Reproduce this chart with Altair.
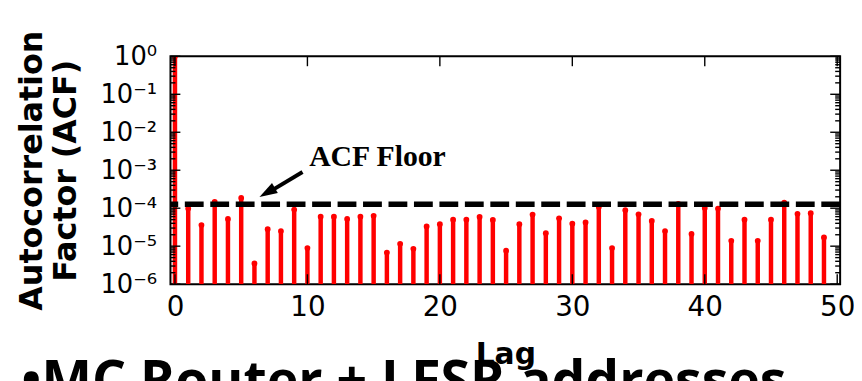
import altair as alt
import pandas as pd

# ---- data ----
lags = list(range(50))
acf = [1.0, 9.8e-5, 3.6e-5, 1.46e-4, 5.2e-5, 1.86e-4, 3.5e-6, 2.8e-5, 2.5e-5, 9.2e-5,
       8.9e-6, 6.0e-5, 6.0e-5, 5.2e-5, 6.0e-5, 6.3e-5, 6.8e-6, 1.15e-5, 8.5e-6, 3.3e-5,
       3.8e-5, 5.0e-5, 5.0e-5, 5.9e-5, 4.9e-5, 7.6e-6, 3.8e-5, 6.8e-5, 2.2e-5, 5.4e-5,
       3.9e-5, 4.2e-5, 1.08e-4, 8.9e-6, 8.9e-5, 6.9e-5, 4.6e-5, 2.5e-5, 1.29e-4, 2.1e-5,
       1.02e-4, 9.8e-5, 1.38e-5, 5.0e-5, 1.38e-5, 5.0e-5, 1.41e-4, 7.1e-5, 7.4e-5, 1.7e-5]
acf_floor = [1.27e-4]
x_ticks = [0, 10, 20, 30, 40, 50]
y_ticks = [1e-6, 1e-5, 1e-4, 1e-3, 1e-2, 1e-1, 1.0]
y_minor = [m * 10.0 ** k for k in range(-6, 0) for m in range(2, 10)]
annot_label = ["ACF Floor"]
annot_pos_x = [10.13]
annot_pos_y = [1.33e-3]
arrow_tail_x = [9.63]
arrow_tail_y = [8.98e-4]
arrow_shaft_end_x = [7.16]
arrow_shaft_end_y = [2.73e-4]
arrow_tip_x = [6.38]
arrow_tip_y = [1.97e-4]
slide_text = ["\u2022MC Router + LFSR addresses"]

W, H = 676, 230
xs = alt.Scale(domain=[-0.34, 50.22], nice=False, zero=False)
ys = alt.Scale(type="log", domain=[1e-6, 1.0], nice=False)

y_label_expr = ("'10' + (round(log(datum.value)/LN10) < 0 ? '\u207b' : '') + "
                "substring('\u2070\u00b9\u00b2\u00b3\u2074\u2075\u2076', "
                "abs(round(log(datum.value)/LN10)), abs(round(log(datum.value)/LN10)) + 1)")

xaxis = alt.Axis(
    values=x_ticks, ticks=False, tickSize=0, domain=False, grid=False,
    labelFont="DejaVu Sans", labelFontSize=28, labelColor="black",
    labelPadding=10, labelFlush=False,
    title="Lag", titleFont="DejaVu Sans", titleFontSize=30, titleFontWeight="bold",
    titleColor="black", titleBaseline="alphabetic", titleY=80, titleX=W / 2,
    titleAlign="center")
yaxis = alt.Axis(
    values=y_ticks, ticks=False, tickSize=0, domain=False, grid=False,
    labelExpr=y_label_expr, labelFont="DejaVu Sans", labelFontSize=26,
    labelColor="black", labelPadding=14, labelFlush=False,
    title=["Autocorrelation", "Factor (ACF)"], titleFont="DejaVu Sans",
    titleFontSize=32, titleFontWeight="bold", titleColor="black",
    titleAngle=270, titleAlign="center", titleBaseline="alphabetic",
    titleLineHeight=35, titleX=-130.5, titleY=H / 2)


def X(field):
    return alt.X(field, scale=xs, axis=xaxis)


def Y(field):
    return alt.Y(field, scale=ys, axis=yaxis)


df = pd.DataFrame({"lag": lags, "acf": acf})

stems = alt.Chart(df).mark_rule(color="#ff0000", strokeWidth=4.5, clip=True).encode(
    x=X("lag:Q"), y=Y("acf:Q"), y2=alt.datum(1e-6))

dots = alt.Chart(df).mark_point(shape="circle", filled=True, size=34, color="#ff0000",
                                opacity=1, clip=True).encode(x=X("lag:Q"), y=Y("acf:Q"))

floor = alt.Chart(pd.DataFrame({"floor": acf_floor})).mark_rule(
    color="black", strokeWidth=5.5, strokeDash=[19, 6.7]).encode(y=Y("floor:Q"))

arrow_df = pd.DataFrame({"x": arrow_tail_x, "y": arrow_tail_y,
                         "x2": arrow_shaft_end_x, "y2": arrow_shaft_end_y,
                         "tx": arrow_tip_x, "ty": arrow_tip_y})
shaft = alt.Chart(arrow_df).mark_rule(color="black", strokeWidth=4).encode(
    x=X("x:Q"), y=Y("y:Q"), x2="x2:Q", y2="y2:Q")
head = alt.Chart(arrow_df).mark_point(shape="M0,0L-0.65,2L0.65,2Z", filled=True,
                                      size=324, angle=240, color="black", opacity=1).encode(
    x=X("tx:Q"), y=Y("ty:Q"))

label = alt.Chart(pd.DataFrame({"t": annot_label, "x": annot_pos_x, "y": annot_pos_y})).mark_text(
    font="Liberation Serif", fontSize=30, fontWeight="bold", color="black",
    align="left", baseline="alphabetic").encode(x=X("x:Q"), y=Y("y:Q"), text="t:N")

# tick marks drawn inward (decoration)
tk = pd.DataFrame({"v": y_ticks})
tkm = pd.DataFrame({"v": y_minor})
tx = pd.DataFrame({"v": x_ticks})
tick_style = dict(color="black", strokeWidth=1.4)
yl_major = alt.Chart(tk).mark_rule(**tick_style).encode(
    y=Y("v:Q"), x=alt.value(0), x2=alt.value(10))
yr_major = alt.Chart(tk).mark_rule(**tick_style).encode(
    y=Y("v:Q"), x=alt.value(W - 10), x2=alt.value(W))
yl_minor = alt.Chart(tkm).mark_rule(**tick_style).encode(
    y=Y("v:Q"), x=alt.value(0), x2=alt.value(5))
yr_minor = alt.Chart(tkm).mark_rule(**tick_style).encode(
    y=Y("v:Q"), x=alt.value(W - 5), x2=alt.value(W))
xb_major = alt.Chart(tx).mark_rule(**tick_style).encode(
    x=X("v:Q"), y=alt.value(H - 10), y2=alt.value(H))
xt_major = alt.Chart(tx).mark_rule(**tick_style).encode(
    x=X("v:Q"), y=alt.value(0), y2=alt.value(10))

slide = alt.Chart(pd.DataFrame({"t": slide_text})).mark_text(
    font="Open Sans", fontSize=54, fontWeight="bold", color="black",
    align="left", baseline="alphabetic").encode(
    x=alt.value(-150.5), y=alt.value(346), text="t:N")

chart = alt.layer(
    stems, dots, yl_minor, yr_minor, yl_major, yr_major, xb_major, xt_major,
    floor, shaft, head, label, slide
).properties(
    width=W, height=H,
    autosize=alt.AutoSizeParams(type="none"),
    padding={"left": 164, "top": 47, "right": 14, "bottom": 96},
    background="white",
).configure_view(stroke="black", strokeWidth=2)

chart.save("out.html", embed_options={"renderer": "svg", "actions": False})
